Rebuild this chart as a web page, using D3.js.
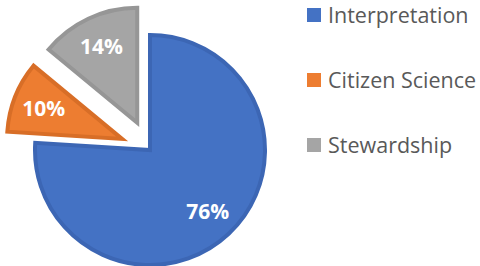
<!DOCTYPE html>
<html>
<head>
<meta charset="utf-8">
<script src="https://cdn.jsdelivr.net/npm/d3@7"></script>
<style>
  body { margin: 0; background: #fff; }
  svg { display: block; }
</style>
</head>
<body>
<div id="chart"></div>
<script>
// data
var categories = ["Interpretation", "Citizen Science", "Stewardship"];
var values = [76, 10, 14];
var exploded = [false, true, true];
var colors = ["#4472C4", "#ED7D31", "#A5A5A5"];
var strokes = ["#3C66B4", "#D86E27", "#969696"];

var width = 480, height = 266;
var cx = 150, cy = 150, r = 117, explode = 30;

var svg = d3.select("#chart")
    .append("svg")
    .attr("width", width)
    .attr("height", height);

var pie = d3.pie().sort(null).value(d => d.value);
var arcs = pie(categories.map((c, i) => ({ name: c, value: values[i], i: i })));

var arc = d3.arc().innerRadius(0).outerRadius(r - 2);
var labelArc = d3.arc().innerRadius(r * 0.72).outerRadius(r * 0.72);

var g = svg.append("g")
    .attr("transform", "translate(" + cx + "," + cy + ")");

var slices = g.selectAll("g.slice")
    .data(arcs)
    .enter()
    .append("g")
    .attr("class", "slice")
    .attr("transform", function (d) {
        if (!exploded[d.data.i]) return null;
        var a = (d.startAngle + d.endAngle) / 2;
        return "translate(" + (Math.sin(a) * explode) + "," + (-Math.cos(a) * explode) + ")";
    });

slices.append("path")
    .attr("d", arc)
    .attr("fill", d => colors[d.data.i])
    .attr("stroke", d => strokes[d.data.i])
    .attr("stroke-width", 4)
    .attr("stroke-linejoin", "miter");

slices.append("text")
    .attr("transform", d => "translate(" + labelArc.centroid(d) + ")")
    .attr("text-anchor", "middle")
    .attr("dy", "0.36em")
    .attr("font-family", "'Open Sans', sans-serif")
    .attr("font-weight", "bold")
    .attr("font-size", "21px")
    .attr("fill", "#fff")
    .text(d => d.data.value + "%");

// legend
var legend = svg.append("g")
    .attr("transform", "translate(307,0)");

var rowY = d3.scalePoint()
    .domain(categories)
    .range([15, 145]);

var item = legend.selectAll("g.item")
    .data(categories)
    .enter()
    .append("g")
    .attr("class", "item")
    .attr("transform", d => "translate(0," + rowY(d) + ")");

item.append("rect")
    .attr("x", 0)
    .attr("y", -7)
    .attr("width", 14)
    .attr("height", 14)
    .attr("fill", (d, i) => colors[i]);

item.append("text")
    .attr("x", 21)
    .attr("dy", "0.36em")
    .attr("font-family", "'Open Sans', sans-serif")
    .attr("font-size", "21.5px")
    .attr("fill", "#595959")
    .text(d => d);
</script>
</body>
</html>
